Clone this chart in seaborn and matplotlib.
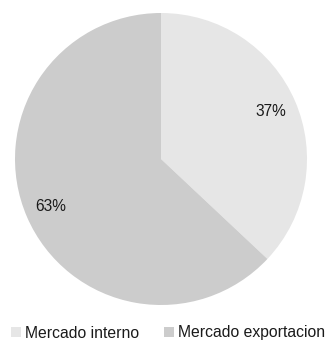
import matplotlib
matplotlib.use("Agg")
import matplotlib.pyplot as plt
from matplotlib.patches import Patch
import seaborn as sns

sns.set_theme(style="white")
plt.rcParams["font.family"] = ["Liberation Sans", "DejaVu Sans"]

categories = ["Mercado interno", "Mercado exportacion"]
shares = [37, 63]
colors = ["#e6e6e6", "#cccccc"]

W, H = 328, 341
fig = plt.figure(figsize=(W / 100, H / 100), dpi=100)

# pie centred at (161, 159) px with radius 146 px
cx, cy, r = 161, 159, 146
ax = fig.add_axes([(cx - r) / W, (H - cy - r) / H, 2 * r / W, 2 * r / H])
ax.pie(shares, colors=colors, startangle=90, counterclock=False,
       autopct=lambda p: f"{p:.0f}%", pctdistance=0.82,
       wedgeprops=dict(linewidth=0),
       textprops=dict(fontsize=11.2, color="#1a1a1a"))
ax.set_aspect("equal")
ax.set_xlim(-1, 1)
ax.set_ylim(-1, 1)
ax.axis("off")

handles = [Patch(facecolor=c, edgecolor="none") for c in colors]
fig.legend(handles, categories, loc="center", bbox_to_anchor=(168 / W, 1 - 333 / H),
           ncol=2, frameon=False, fontsize=11.3, handlelength=0.65, handleheight=0.65,
           handletextpad=0.25, columnspacing=1.55, borderpad=0, labelcolor="#1a1a1a")

fig.savefig("out.png", dpi=100, facecolor="white")
